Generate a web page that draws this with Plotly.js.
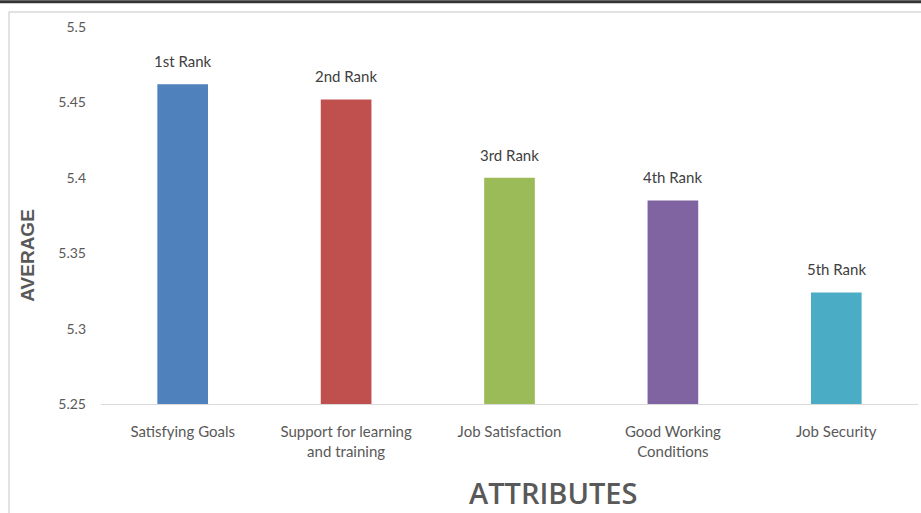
<!DOCTYPE html>
<html>
<head>
<meta charset="utf-8">
<script src="https://cdn.plot.ly/plotly-3.0.1.min.js"></script>
<style>html,body{margin:0;padding:0;background:#fff;}#chart{width:921px;height:513px;}</style>
</head>
<body>
<div id="chart"></div>
<script>
const categories = ["Satisfying Goals", "Support for learning<br>and training", "Job Satisfaction", "Good Working<br>Conditions", "Job Security"];
const averages = [5.462, 5.452, 5.400, 5.385, 5.324];
const rankLabels = ["1st Rank", "2nd Rank", "3rd Rank", "4th Rank", "5th Rank"];
const barColors = ["#4f81bd", "#c0504d", "#9bbb59", "#8064a2", "#4bacc6"];
const yTickVals = [5.25, 5.3, 5.35, 5.4, 5.45, 5.5];
const yTickText = ["5.25", "5.3", "5.35", "5.4", "5.45", "5.5"];

const font = "Lato, 'Open Sans', sans-serif";

const trace = {
  type: "bar",
  x: categories,
  y: averages,
  marker: {color: barColors},
  width: 0.31,
  hoverinfo: "none"
};

const rankAnnotations = categories.map((c, i) => ({
  text: rankLabels[i], x: c, y: averages[i], xref: "x", yref: "y",
  xanchor: "center", yanchor: "bottom", yshift: 12, showarrow: false,
  font: {family: font, size: 15, color: "#404040"}
}));

const layout = {
  width: 921, height: 513,
  margin: {l: 101, r: 3, t: 27, b: 109},
  paper_bgcolor: "#fff", plot_bgcolor: "#fff",
  showlegend: false,
  font: {family: font, color: "#595959", size: 14},
  xaxis: {
    showgrid: false, zeroline: false,
    showline: true, linecolor: "#d9d9d9", linewidth: 1,
    ticks: "", tickfont: {family: font, size: 15, color: "#595959"},
    ticklabelstandoff: 14
  },
  yaxis: {
    range: [5.25, 5.5],
    tickvals: yTickVals, ticktext: yTickText,
    showgrid: false, zeroline: false, showline: false,
    ticks: "", tickfont: {family: font, size: 14, color: "#595959"},
    ticklabelstandoff: 14
  },
  annotations: rankAnnotations.concat([
    {text: "<b>AVERAGE</b>", xref: "paper", yref: "paper", x: -0.091, y: 0.395,
     xanchor: "center", yanchor: "middle", textangle: -90, showarrow: false,
     font: {family: "'Liberation Sans', Arial, sans-serif", size: 19, color: "#595959"}},
    {text: "ATTRIBUTES", xref: "paper", yref: "paper", x: 0.553, y: -0.236,
     xanchor: "center", yanchor: "middle", showarrow: false,
     font: {family: "'Open Sans', sans-serif", size: 29, color: "#595959", weight: 600}}
  ]),
  shapes: [
    {type: "rect", xref: "paper", yref: "paper", x0: -0.1126, x1: 1.05, y0: -0.35, y1: 1.04,
     line: {color: "#d9d9d9", width: 1.5}, fillcolor: "rgba(0,0,0,0)", layer: "below"},
    {type: "line", xref: "paper", yref: "paper", x0: -0.2, x1: 1.1, y0: 1.067, y1: 1.067,
     line: {color: "#333", width: 3}}
  ]
};

Plotly.newPlot("chart", [trace], layout, {staticPlot: true, displayModeBar: false});
</script>
</body>
</html>
